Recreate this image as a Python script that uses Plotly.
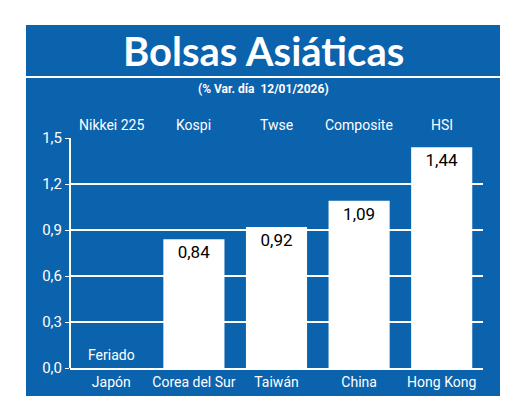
import plotly.graph_objects as go

countries = ["Japón", "Corea del Sur", "Taiwán", "China", "Hong Kong"]
indices = ["Nikkei 225", "Kospi", "Twse", "Composite", "HSI"]
values = [0, 0.84, 0.92, 1.09, 1.44]
labels = ["", "0,84", "0,92", "1,09", "1,44"]
yticks = [0, 0.3, 0.6, 0.9, 1.2, 1.5]

BLUE = "#0b62ad"
O = 8  # page body margin
W, H = 520 - O, 419 - O
L, R, T, B = 70 - O, 37, 138 - O, 51
pw, ph = W - L - R, H - T - B
def px(x): return (x - O - L) / pw
def py(y): return (H - B - (y - O)) / ph
FONT = "Roboto"

fig = go.Figure(go.Bar(
    x=countries, y=values, width=0.74, marker_color="white", marker_line_width=0,
    text=labels, textposition="inside", insidetextanchor="end",
    textfont=dict(color="black", size=17, family=FONT), cliponaxis=False))

shapes = [
    dict(type="rect", xref="paper", yref="paper", x0=px(26), x1=px(500), y0=py(396), y1=py(25),
         fillcolor=BLUE, line_width=0, layer="below"),
    dict(type="line", xref="paper", yref="paper", x0=px(26), x1=px(500), y0=py(77), y1=py(77),
         line=dict(color="white", width=2)),
    dict(type="line", xref="paper", yref="paper", x0=0, x1=0, y0=0, y1=1,
         line=dict(color="white", width=2)),
]
ann = [
    dict(text="<b>Bolsas Asiáticas</b>", xref="paper", yref="paper", x=px(263), y=py(51),
         yanchor="middle", showarrow=False, font=dict(color="white", size=40, family="Lato")),
    dict(text="<b>(% Var. día  12/01/2026)</b>", xref="paper", yref="paper", x=px(263), y=py(89),
         yanchor="middle", showarrow=False, font=dict(color="white", size=12, family=FONT)),
    dict(text="Feriado", x=countries[0], xref="x", yref="paper", y=py(355), yanchor="middle",
         showarrow=False, font=dict(color="white", size=14, family=FONT)),
]
for c, n in zip(countries, indices):
    ann.append(dict(text=n, x=c, xref="x", yref="paper", y=py(125), yanchor="middle",
                    showarrow=False, font=dict(color="white", size=14, family=FONT)))

fig.update_layout(
    width=W, height=H, margin=dict(l=L, r=R, t=T, b=B),
    paper_bgcolor="white", plot_bgcolor=BLUE, separators=",.",
    shapes=shapes, annotations=ann, showlegend=False,
    xaxis=dict(showgrid=False, tickfont=dict(color="white", size=14, family=FONT),
               showline=True, linecolor="white", linewidth=2, ticks="", fixedrange=True),
    yaxis=dict(range=[0, 1.5], tickvals=yticks, tickformat=".1f", showgrid=True,
               gridcolor="white", gridwidth=2, zeroline=False,
               tickfont=dict(color="white", size=15, family=FONT),
               ticks="outside", tickcolor="white", ticklen=4),
)
fig.write_html("out.html")
